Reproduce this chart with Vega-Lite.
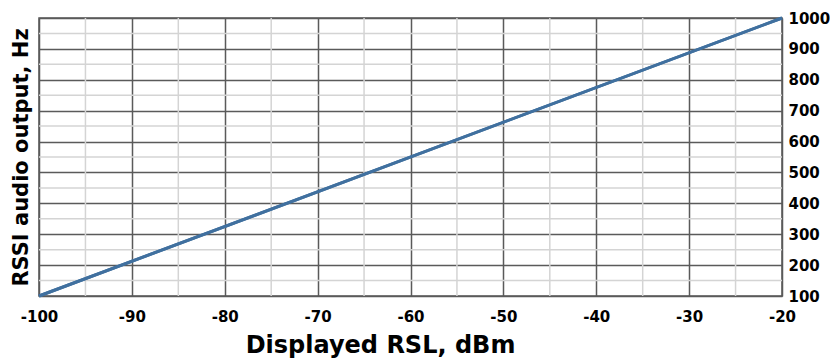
{
  "$schema": "https://vega.github.io/schema/vega-lite/v6.json",
  "width": 743,
  "height": 278,
  "autosize": "none",
  "padding": {"left": 39, "top": 18, "right": 48, "bottom": 63},
  "background": "white",
  "config": {
    "view": {"stroke": "#555555", "strokeWidth": 1.5},
    "font": "DejaVu Sans"
  },
  "datasets": {
    "line": [{"rsl": -100, "hz": 100}, {"rsl": -20, "hz": 1000}],
    "vminor": [{"rsl": -95}, {"rsl": -85}, {"rsl": -75}, {"rsl": -65}, {"rsl": -55}, {"rsl": -45}, {"rsl": -35}, {"rsl": -25}],
    "hminor": [{"hz": 150}, {"hz": 250}, {"hz": 350}, {"hz": 450}, {"hz": 550}, {"hz": 650}, {"hz": 750}, {"hz": 850}, {"hz": 950}]
  },
  "resolve": {"axis": {"x": "independent", "y": "independent"}},
  "layer": [
    {
      "data": {"name": "vminor"},
      "mark": {"type": "rule", "color": "#d4d4d4", "strokeWidth": 1.5},
      "encoding": {
        "x": {"field": "rsl", "type": "quantitative", "scale": {"domain": [-100, -20], "nice": false, "zero": false}, "axis": null}
      }
    },
    {
      "data": {"name": "hminor"},
      "mark": {"type": "rule", "color": "#d4d4d4", "strokeWidth": 1.5},
      "encoding": {
        "y": {"field": "hz", "type": "quantitative", "scale": {"domain": [100, 1000], "nice": false, "zero": false}, "axis": null}
      }
    },
    {
      "data": {"name": "line"},
      "mark": {"type": "line", "color": "#40709f", "strokeWidth": 3},
      "encoding": {
        "x": {
          "field": "rsl", "type": "quantitative",
          "scale": {"domain": [-100, -20], "nice": false, "zero": false},
          "axis": {
            "values": [-100, -90, -80, -70, -60, -50, -40, -30, -20],
            "labelExpr": "datum.value + ''",
            "labelFlush": false,
            "labelFont": "DejaVu Sans",
            "labelFontSize": 15,
            "labelFontWeight": "bold",
            "labelColor": "#000000",
            "labelPadding": 13,
            "ticks": false,
            "domain": false,
            "grid": true,
            "gridColor": "#5a5a5a",
            "gridWidth": 1.5,
            "gridOpacity": 1,
            "title": "Displayed RSL, dBm",
            "titleFont": "DejaVu Sans",
            "titleFontSize": 24,
            "titleFontWeight": "bold",
            "titleColor": "#000000",
            "titleX": 341,
            "titleY": 56,
            "titleBaseline": "alphabetic"
          }
        },
        "y": {
          "field": "hz", "type": "quantitative",
          "scale": {"domain": [100, 1000], "nice": false, "zero": false},
          "axis": {
            "orient": "left",
            "labels": false,
            "ticks": false,
            "domain": false,
            "grid": false,
            "title": "RSSI audio output, Hz",
            "titleFont": "DejaVu Sans",
            "titleFontSize": 21,
            "titleFontWeight": "bold",
            "titleColor": "#000000",
            "titlePadding": 8
          }
        }
      }
    },
    {
      "data": {"name": "line"},
      "mark": {"type": "line", "color": "#40709f", "strokeWidth": 3},
      "encoding": {
        "x": {"field": "rsl", "type": "quantitative", "scale": {"domain": [-100, -20], "nice": false, "zero": false}, "axis": null},
        "y": {
          "field": "hz", "type": "quantitative",
          "scale": {"domain": [100, 1000], "nice": false, "zero": false},
          "axis": {
            "orient": "right",
            "values": [100, 200, 300, 400, 500, 600, 700, 800, 900, 1000],
            "labelExpr": "datum.value + ''",
            "labelFont": "DejaVu Sans",
            "labelFontSize": 15,
            "labelFontWeight": "bold",
            "labelColor": "#000000",
            "labelPadding": 6,
            "labelOverlap": false,
            "ticks": false,
            "domain": false,
            "grid": true,
            "gridColor": "#5a5a5a",
            "gridWidth": 1.5,
            "gridOpacity": 1,
            "title": null
          }
        }
      }
    }
  ]
}
